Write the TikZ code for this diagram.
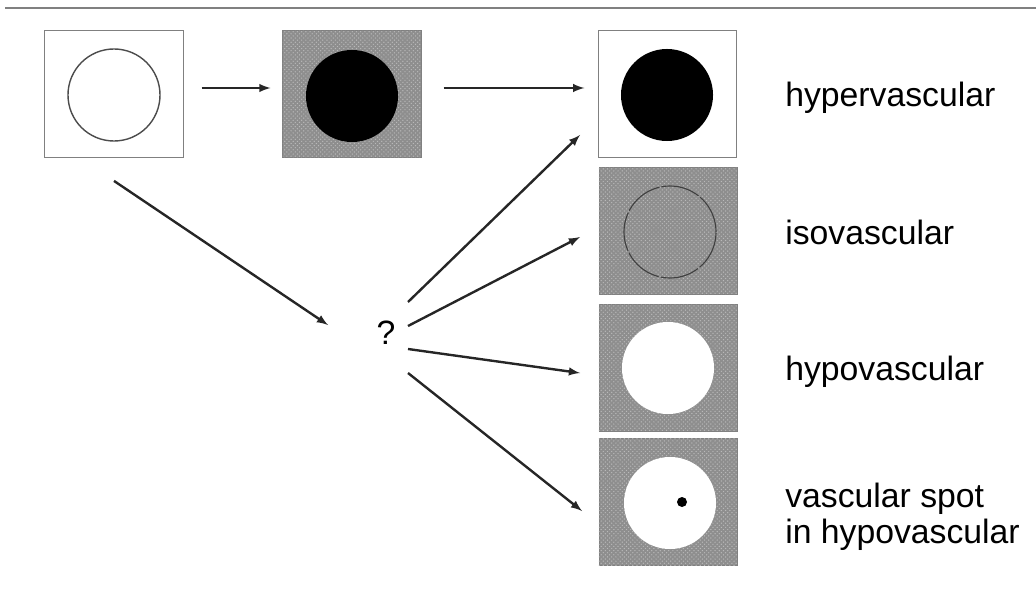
\documentclass[tikz,border=0pt]{standalone}
\usepackage{fontspec}
\setmainfont{Liberation Sans}
\usepackage{xcolor}
\usetikzlibrary{arrows,positioning,patterns}

\definecolor{screen}{RGB}{142,142,142}

\begin{document}
\begin{tikzpicture}[x=0.025cm,y=-0.025cm,
		panel/.style={draw=gray,line width=0.7pt,minimum width=3.45cm,minimum height=3.17cm,inner sep=0pt},
		dark/.style={panel,fill=screen,postaction={pattern=crosshatch dots,pattern color=gray!55}},
		lesion/.style={circle,minimum size=2.3cm,inner sep=0pt},
		arr/.style={-latex,line width=1.7pt,black!85},
		lab/.style={anchor=base west,inner sep=0pt,font=\fontsize{24}{29}\selectfont}]
	\useasboundingbox (0,0) rectangle (1036,616);
	\draw[gray,line width=2pt] (5,8) -- (1036,8);
	% first row
	\node[panel] (plain) at (114,94) {};
	\node[lesion,draw=black!70,line width=1pt] (ring) at (114,95) {};
	\node[dark] (early) at (352,94) {};
	\node[lesion,fill=black] at (352,96) {};
	\node[panel] (hyper) at (667,94) {};
	\node[lesion,fill=black] at (667,95) {};
	% right column
	\node[dark] (iso) at (668,231) {};
	\node[lesion,draw=black!75,line width=0.8pt,dash pattern=on 28pt off 1.5pt] at (670,232) {};
	\node[dark] (hypo) at (668,368) {};
	\node[lesion,fill=white] at (668,368) {};
	\node[dark] (spot) at (668,502) {};
	\node[lesion,fill=white] at (670,503) {};
	\fill[black] (682,502) circle (5);
	% the unknown step
	\node[font=\fontsize{24}{29}\selectfont] (q) at (386,333) {?};
	\coordinate (qin) at (328,325);
	\coordinate (q1) at (408,302);
	\coordinate (q2) at (408,326);
	\coordinate (q3) at (408,349);
	\coordinate (q4) at (408,373);
	\coordinate (to1) at (580,135);
	\coordinate (to2) at (580,237);
	\coordinate (to3) at (580,373);
	\coordinate (to4) at (582,511);
	\draw[arr,shorten <=0.45cm,shorten >=0.3cm] ([yshift=0.15cm]plain.east) -- ([yshift=0.15cm]early.west);
	\draw[arr,shorten <=0.55cm,shorten >=0.33cm] ([yshift=0.15cm]early.east) -- ([yshift=0.15cm]hyper.west);
	\draw[arr] ([yshift=-0.575cm]plain.south) -- (qin);
	\draw[arr] (q1) -- (to1);
	\draw[arr] (q2) -- (to2);
	\draw[arr] (q3) -- (to3);
	\draw[arr] (q4) -- (to4);
	% labels
	\node[lab] at (785,107) {hypervascular};
	\node[lab] at (785,244) {isovascular};
	\node[lab] at (785,380) {hypovascular};
	\node[lab] at (785,507) {vascular spot};
	\node[lab] at (785,543) {in hypovascular};
\end{tikzpicture}
\end{document}
